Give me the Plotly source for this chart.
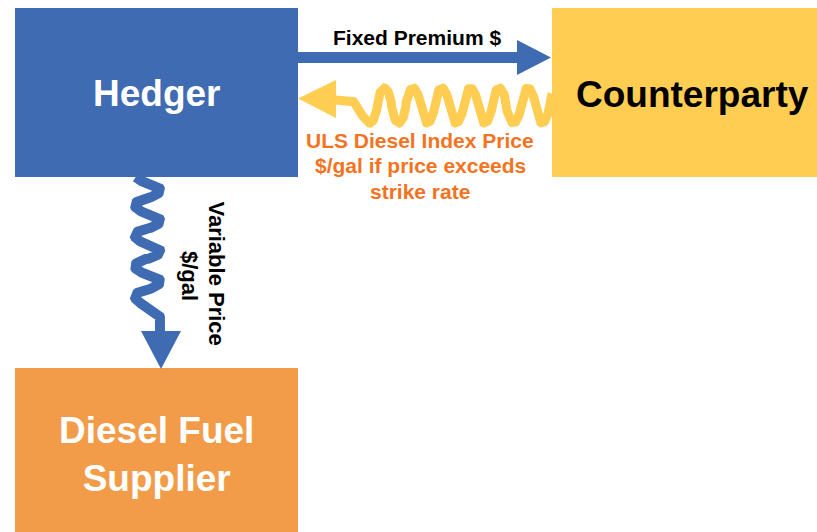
import numpy as np
import plotly.graph_objects as go

# ---- content ----
node_labels = ["Hedger", "Counterparty", "Diesel Fuel<br>Supplier"]
flow_top_label = "Fixed Premium $"
flow_back_lines = ["ULS Diesel Index Price", "$/gal if price exceeds", "strike rate"]
flow_down_lines = ["Variable Price", "$/gal"]

# ---- styles ----
BLUE = "#3F6BB3"
YELLOW = "#FECD52"
ORANGE_BOX = "#F29C49"
ORANGE_TXT = "#F47321"
FONT = "Liberation Sans, Arial, sans-serif"

W, H = 817, 532

# layout geometry (pixel-like coordinates)
boxes = [  # x0, x1, y0, y1, fill, text colour
    (15, 298, 8, 177, BLUE, "white"),
    (552, 817, 8, 177, YELLOW, "black"),
    (15, 298, 368, 532, ORANGE_BOX, "white"),
]
label_pos = [(156.5, 93.5), (692.5, 94.5), (156.5, 454)]


def soft(v, p=0.6):
    """rounded-peak wave profile"""
    return np.sign(v) * np.abs(v) ** p


fig = go.Figure()
shapes = []
for (x0, x1, y0, y1, c, _) in boxes:
    shapes.append(dict(type="rect", x0=x0, x1=x1, y0=y0, y1=y1,
                       fillcolor=c, line=dict(width=0), layer="below"))

# straight arrow Hedger -> Counterparty
shapes.append(dict(type="rect", x0=297, x1=518, y0=52, y1=63,
                   fillcolor=BLUE, line=dict(width=0)))
shapes.append(dict(type="path", path="M 517 40 L 551 57.5 L 517 75 Z",
                   fillcolor=BLUE, line=dict(width=0)))

# wavy arrow Counterparty -> Hedger
xs1 = np.linspace(335, 350, 5)
ys1 = np.full_like(xs1, 100.0)
xs2 = np.linspace(350, 370, 30)
ys2 = 100 + 23 * (1 - np.cos(np.pi * (xs2 - 350) / 20)) / 2
xs3 = np.linspace(370, 552, 600)
ys3 = 105.5 + 17.5 * soft(np.cos(2 * np.pi * (xs3 - 370) / 28.7))
fig.add_trace(go.Scatter(x=np.concatenate([xs1, xs2, xs3]),
                         y=np.concatenate([ys1, ys2, ys3]),
                         mode="lines", line=dict(color=YELLOW, width=9),
                         hoverinfo="skip", showlegend=False))
shapes.append(dict(type="path", path="M 298 98.5 L 336 80 L 336 118 Z",
                   fillcolor=YELLOW, line=dict(width=0)))

# wavy arrow Hedger -> Supplier
yv1 = np.linspace(177, 296.75, 400)
xv1 = 147.5 + 12.5 * soft(np.sin(2 * np.pi * (yv1 - 182.5) / 30.5))
yv2 = np.linspace(296.75, 318, 30)
xv2 = 135 + 25 * (1 - np.cos(np.pi * (yv2 - 296.75) / 21.25)) / 2
yv3 = np.linspace(318, 334, 5)
xv3 = np.full_like(yv3, 160.0)
fig.add_trace(go.Scatter(x=np.concatenate([xv1, xv2, xv3]),
                         y=np.concatenate([yv1, yv2, yv3]),
                         mode="lines", line=dict(color=BLUE, width=10),
                         hoverinfo="skip", showlegend=False))
shapes.append(dict(type="path", path="M 141 331 L 181 331 L 161 369 Z",
                   fillcolor=BLUE, line=dict(width=0)))

annotations = []
for lab, (x, y), b in zip(node_labels, label_pos, boxes):
    annotations.append(dict(x=x, y=y, text="<b>%s</b>" % lab, showarrow=False,
                            xanchor="center", yanchor="middle",
                            font=dict(family=FONT, size=37, color=b[5])))
annotations.append(dict(x=416.5, y=37, text="<b>%s</b>" % flow_top_label,
                        showarrow=False, xanchor="center", yanchor="middle",
                        font=dict(family=FONT, size=21, color="black")))
for line, y in zip(flow_back_lines, [140, 165.5, 191]):
    annotations.append(dict(x=420, y=y, text="<b>%s</b>" % line,
                            showarrow=False, xanchor="center", yanchor="middle",
                            font=dict(family=FONT, size=21, color=ORANGE_TXT)))
for line, (x, y) in zip(flow_down_lines, [(216, 273.5), (190, 276)]):
    annotations.append(dict(x=x, y=y, text="<b>%s</b>" % line,
                            showarrow=False, xanchor="center", yanchor="middle",
                            textangle=90,
                            font=dict(family=FONT, size=22, color="black")))

fig.update_layout(
    width=W, height=H, margin=dict(l=0, r=0, t=0, b=0),
    paper_bgcolor="white", plot_bgcolor="white",
    xaxis=dict(range=[0, W], visible=False, fixedrange=True),
    yaxis=dict(range=[H, 0], visible=False, fixedrange=True),
    shapes=shapes, annotations=annotations, showlegend=False,
)
fig.write_html("out.html", config={"displayModeBar": False},
               post_script="document.body.style.margin='0';document.body.style.overflow='hidden';")
